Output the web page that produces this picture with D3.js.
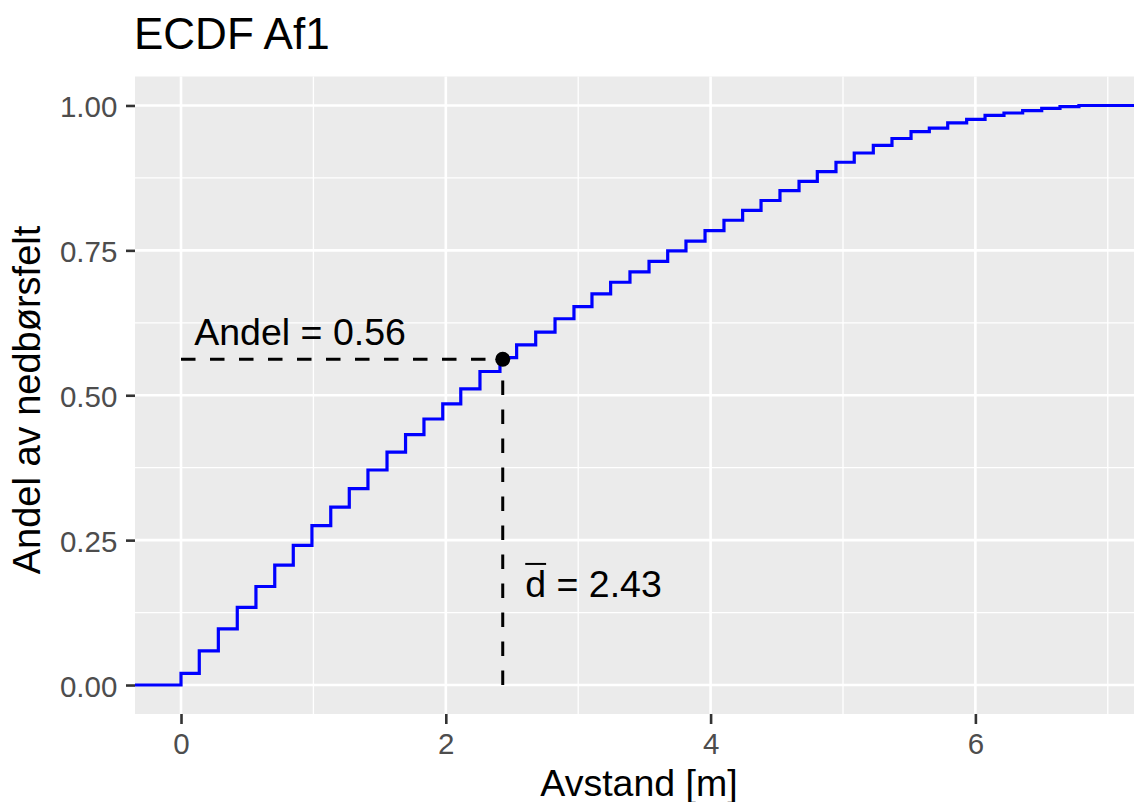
<!DOCTYPE html>
<html>
<head>
<meta charset="utf-8">
<script src="https://cdn.jsdelivr.net/npm/d3@7"></script>
<style>
body { margin: 0; background: #fff; }
svg { display: block; font-family: "Liberation Sans", Arial, sans-serif; }
</style>
</head>
<body>
<div id="ecdf"></div>
<script>
'use strict';

/*** Data */
/** ECDF jumps: distance [m] and cumulative share after the jump */
const stepX = [0.000, 0.138, 0.282, 0.425, 0.566, 0.708, 0.848, 0.989, 1.131, 1.271,
               1.412, 1.556, 1.696, 1.835, 1.977, 2.113, 2.258, 2.409, 2.535, 2.679,
               2.825, 2.968, 3.104, 3.245, 3.391, 3.535, 3.676, 3.814, 3.958, 4.101,
               4.242, 4.381, 4.524, 4.668, 4.806, 4.947, 5.085, 5.229, 5.370, 5.514,
               5.652, 5.791, 5.934, 6.073, 6.216, 6.357, 6.501, 6.639, 6.782];
const stepY = [0.020, 0.059, 0.097, 0.134, 0.170, 0.207, 0.241, 0.275, 0.307, 0.339,
               0.371, 0.402, 0.432, 0.459, 0.485, 0.511, 0.541, 0.565, 0.587, 0.609,
               0.632, 0.653, 0.675, 0.695, 0.713, 0.731, 0.749, 0.766, 0.784, 0.802,
               0.819, 0.836, 0.853, 0.869, 0.886, 0.902, 0.918, 0.931, 0.943, 0.955,
               0.961, 0.970, 0.976, 0.983, 0.987, 0.991, 0.995, 0.998, 1.000];

/** Mean distance and the share at it */
const meanDist = 2.43;
const shareAtMean = 0.562;
const shareLabel = "Andel = 0.56";
const meanLabel = " = 2.43";

/** Ticks */
const xTicks = [0, 2, 4, 6];
const xMinor = [1, 3, 5, 7];
const yTicks = [0, 0.25, 0.5, 0.75, 1];
const yMinor = [0.125, 0.375, 0.625, 0.875];
const yTickLabels = ["0.00", "0.25", "0.50", "0.75", "1.00"];

/** Texts */
const titleText = "ECDF Af1";
const xTitle = "Avstand [m]";
const yTitle = "Andel av nedbørsfelt";

/*** Layout */
const w = 1134;
const h = 802;
const panel = {left: 135, right: 1134, top: 76.5, bottom: 714};

const svg = d3.select("#ecdf")
    .append("svg")
    .attr("width", w)
    .attr("height", h);

const xScale = d3.scaleLinear()
    .domain([-0.3475, 7.198])
    .range([panel.left, panel.right]);

const yScale = d3.scaleLinear()
    .domain([-0.05, 1.05])
    .range([panel.bottom, panel.top]);

/** Panel background */
svg.append("rect")
    .attr("x", panel.left)
    .attr("y", panel.top)
    .attr("width", panel.right - panel.left)
    .attr("height", panel.bottom - panel.top)
    .attr("fill", "#EBEBEB");

/** Grid lines (minor then major) */
const grid = svg.append("g");
grid.selectAll(".xminor").data(xMinor).enter().append("line")
    .attr("x1", d => xScale(d)).attr("x2", d => xScale(d))
    .attr("y1", panel.top).attr("y2", panel.bottom)
    .attr("stroke", "#fff").attr("stroke-width", 1.3);
grid.selectAll(".yminor").data(yMinor).enter().append("line")
    .attr("x1", panel.left).attr("x2", panel.right)
    .attr("y1", d => yScale(d)).attr("y2", d => yScale(d))
    .attr("stroke", "#fff").attr("stroke-width", 1.3);
grid.selectAll(".xmajor").data(xTicks).enter().append("line")
    .attr("x1", d => xScale(d)).attr("x2", d => xScale(d))
    .attr("y1", panel.top).attr("y2", panel.bottom)
    .attr("stroke", "#fff").attr("stroke-width", 2.6);
grid.selectAll(".ymajor").data(yTicks).enter().append("line")
    .attr("x1", panel.left).attr("x2", panel.right)
    .attr("y1", d => yScale(d)).attr("y2", d => yScale(d))
    .attr("stroke", "#fff").attr("stroke-width", 2.6);

/** ECDF step line, padded to the panel edges like stat_ecdf */
const pts = [[xScale.domain()[0], 0]]
    .concat(stepX.map((d, i) => [d, stepY[i]]))
    .concat([[xScale.domain()[1], 1]]);

const stepLine = d3.line()
    .x(d => xScale(d[0]))
    .y(d => yScale(d[1]))
    .curve(d3.curveStepAfter);

svg.append("path")
    .datum(pts)
    .attr("d", stepLine)
    .attr("fill", "none")
    .attr("stroke", "#0000FF")
    .attr("stroke-width", 3.2);

/** Dashed guides to the mean */
svg.append("line")
    .attr("x1", xScale(0)).attr("x2", xScale(meanDist))
    .attr("y1", yScale(shareAtMean)).attr("y2", yScale(shareAtMean))
    .attr("stroke", "#000").attr("stroke-width", 3)
    .attr("stroke-dasharray", "14.5,14.5");

svg.append("line")
    .attr("x1", xScale(meanDist)).attr("x2", xScale(meanDist))
    .attr("y1", yScale(0)).attr("y2", yScale(shareAtMean))
    .attr("stroke", "#000").attr("stroke-width", 3)
    .attr("stroke-dasharray", "14.5,14.5");

svg.append("circle")
    .attr("cx", xScale(meanDist))
    .attr("cy", yScale(shareAtMean))
    .attr("r", 7.5)
    .attr("fill", "#000");

/** Annotations */
svg.append("text")
    .attr("x", xScale(0.1))
    .attr("y", yScale(0.587))
    .attr("font-size", 37.5)
    .attr("fill", "#000")
    .text(shareLabel);

const dText = svg.append("text")
    .attr("x", xScale(2.6))
    .attr("y", yScale(0.152))
    .attr("font-size", 37.5)
    .attr("fill", "#000");
const dSpan = dText.append("tspan").text("d");
dText.append("tspan").text(meanLabel);
const dW = dSpan.node().getComputedTextLength();
svg.append("line")
    .attr("x1", xScale(2.6)).attr("x2", xScale(2.6) + dW)
    .attr("y1", yScale(0.152) - 33).attr("y2", yScale(0.152) - 33)
    .attr("stroke", "#000").attr("stroke-width", 2);

/** Axes */
const xAxis = d3.axisBottom(xScale)
    .tickValues(xTicks)
    .tickSize(10)
    .tickPadding(9)
    .tickFormat(d3.format("d"));

const yAxis = d3.axisLeft(yScale)
    .tickValues(yTicks)
    .tickSize(9)
    .tickPadding(8.7)
    .tickFormat((d, i) => yTickLabels[i]);

const gx = svg.append("g")
    .attr("transform", "translate(0," + panel.bottom + ")")
    .call(xAxis);

const gy = svg.append("g")
    .attr("transform", "translate(" + panel.left + ",0)")
    .call(yAxis);

[gx, gy].forEach(g => {
    g.select(".domain").remove();
    g.selectAll(".tick line").attr("stroke", "#333333").attr("stroke-width", 2.6);
    g.selectAll(".tick text")
        .attr("fill", "#4D4D4D")
        .attr("font-size", 29.5)
        .attr("font-family", "Liberation Sans, Arial, sans-serif");
});
gy.selectAll(".tick text").attr("dy", "0.38em");

/** Titles */
svg.append("text")
    .attr("x", 134)
    .attr("y", 48.5)
    .attr("font-size", 44)
    .attr("fill", "#000")
    .text(titleText);

svg.append("text")
    .attr("x", 639)
    .attr("y", 796)
    .attr("text-anchor", "middle")
    .attr("font-size", 37.5)
    .attr("fill", "#000")
    .text(xTitle);

svg.append("text")
    .attr("transform", "translate(40,400) rotate(-90)")
    .attr("text-anchor", "middle")
    .attr("font-size", 38)
    .attr("fill", "#000")
    .text(yTitle);
</script>
</body>
</html>
